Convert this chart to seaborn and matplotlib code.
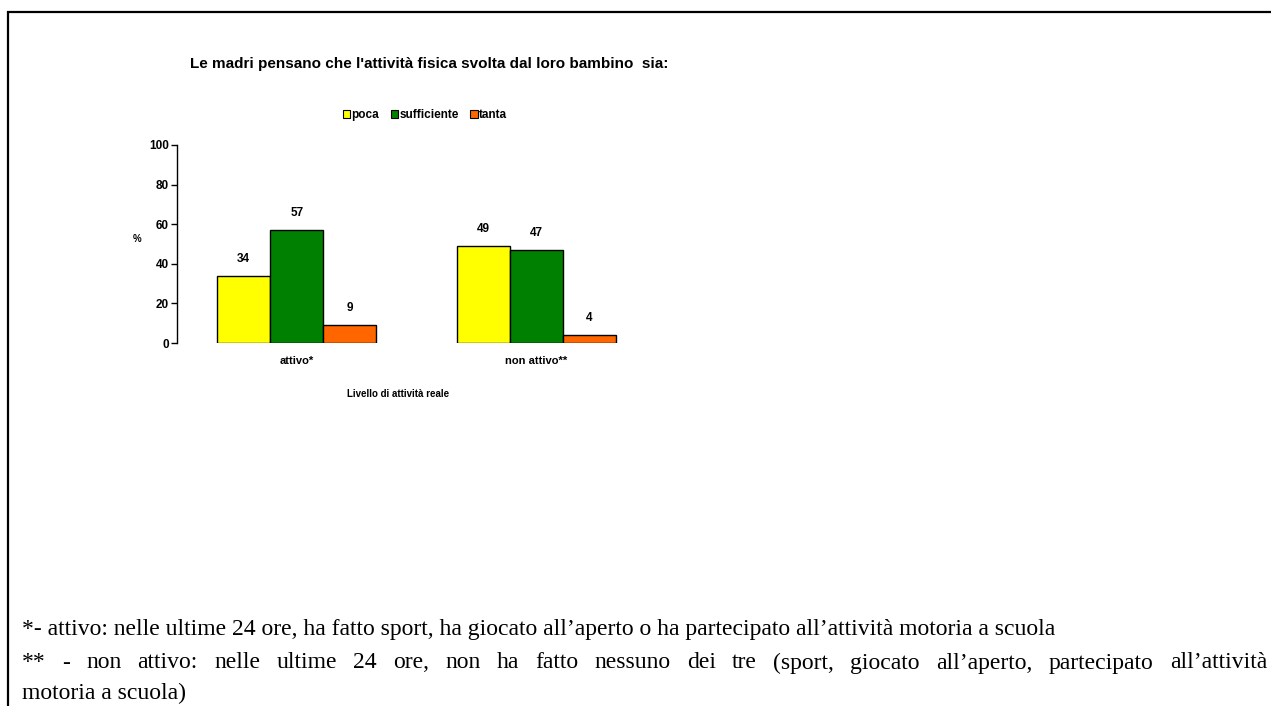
import pandas as pd
import seaborn as sns
import matplotlib.pyplot as plt
from matplotlib.patches import Rectangle, Patch

# Dati
livelli = ['attivo*', 'non attivo**']
percezione = ['poca', 'sufficiente', 'tanta']
poca = [34, 49]
sufficiente = [57, 47]
tanta = [9, 4]
colori = ['#FFFF00', '#008000', '#FF6600']

nota1 = "*- attivo: nelle ultime 24 ore, ha fatto sport, ha giocato all\u2019aperto o ha partecipato all\u2019attivit\u00e0 motoria a scuola"
nota2 = "** - non attivo: nelle ultime 24 ore, non ha fatto nessuno dei tre (sport, giocato all\u2019aperto, partecipato all\u2019attivit\u00e0"
nota3 = "motoria a scuola)"

df = pd.DataFrame({
    'livello': livelli * 3,
    'percezione': [p for p in percezione for _ in livelli],
    'valore': poca + sufficiente + tanta,
})

sns.set_style('white')
plt.rcParams['font.family'] = ['Liberation Sans', 'DejaVu Sans']
plt.rcParams['text.color'] = 'black'
plt.rcParams['axes.labelcolor'] = 'black'
plt.rcParams['xtick.color'] = 'black'
plt.rcParams['ytick.color'] = 'black'

fig = plt.figure(figsize=(12.71, 7.06), dpi=100)
ax = fig.add_axes([177 / 1271, 363 / 706, 479 / 1271, 198 / 706])

sns.barplot(data=df, x='livello', y='valore', hue='percezione', palette=colori,
            width=0.665, edgecolor='black', linewidth=1, saturation=1,
            legend=False, ax=ax)

for cont in ax.containers:
    ax.bar_label(cont, padding=8, fontsize=8.5, fontweight='bold', color='black')

ax.set_ylim(0, 100)
ax.set_xlim(-0.5, 1.5)
ax.set_yticks(range(0, 101, 20))
ax.tick_params(axis='y', left=True, length=4, width=1, pad=2, labelsize=8.5)
ax.tick_params(axis='x', bottom=False, labelsize=8, pad=6)
for lab in ax.get_xticklabels() + ax.get_yticklabels():
    lab.set_fontweight('bold')
for s in ['top', 'right', 'bottom']:
    ax.spines[s].set_visible(False)
ax.spines['left'].set_color('black')
ax.spines['left'].set_linewidth(1)

ax.set_ylabel('%', fontsize=7, fontweight='bold', rotation=0)
ax.yaxis.set_label_coords(-0.083, 0.5)
ax.set_xlabel('Livello di attivit\u00e0 reale', fontsize=7, fontweight='bold')
ax.xaxis.set_label_coords(0.461, -0.23)

fig.text(190 / 1271, 1 - 64 / 706, "Le madri pensano che l'attivit\u00e0 fisica svolta dal loro bambino  sia:",
         fontsize=11, fontweight='bold', va='center', ha='left')

handles = [Patch(facecolor=c, edgecolor='black', linewidth=0.8) for c in colori]
fig.legend(handles, percezione, loc='center', bbox_to_anchor=(425 / 1271, 1 - 115 / 706),
           ncol=3, frameon=False, handlelength=0.6, handleheight=0.6, handletextpad=0.1,
           columnspacing=1.0, prop={'size': 8.5, 'weight': 'bold'})

# cornice
fig.patches.append(Rectangle((8 / 1271, -0.1), 1.2, 0.1 + 694 / 706, transform=fig.transFigure,
                             fill=False, edgecolor='black', linewidth=1.6))

serif = {'family': 'Liberation Serif', 'size': 17}
fig.text(22 / 1271, 1 - 630 / 706, nota1, va='center', ha='left', fontdict=serif)

# riga giustificata
fig.canvas.draw()
r = fig.canvas.get_renderer()
parole = nota2.split(' ')
x0, x1 = 22 / 1271, 1267 / 1271
testi = [fig.text(0, 1 - 663 / 706, w, va='center', ha='left', fontdict=serif) for w in parole]
larg = [t.get_window_extent(r).width / fig.bbox.width for t in testi]
gap = (x1 - x0 - sum(larg)) / (len(parole) - 1)
x = x0
for t, w in zip(testi, larg):
    t.set_x(x)
    x += w + gap

fig.text(22 / 1271, 1 - 693 / 706, nota3, va='center', ha='left', fontdict=serif)

fig.savefig('out.png', dpi=100)
